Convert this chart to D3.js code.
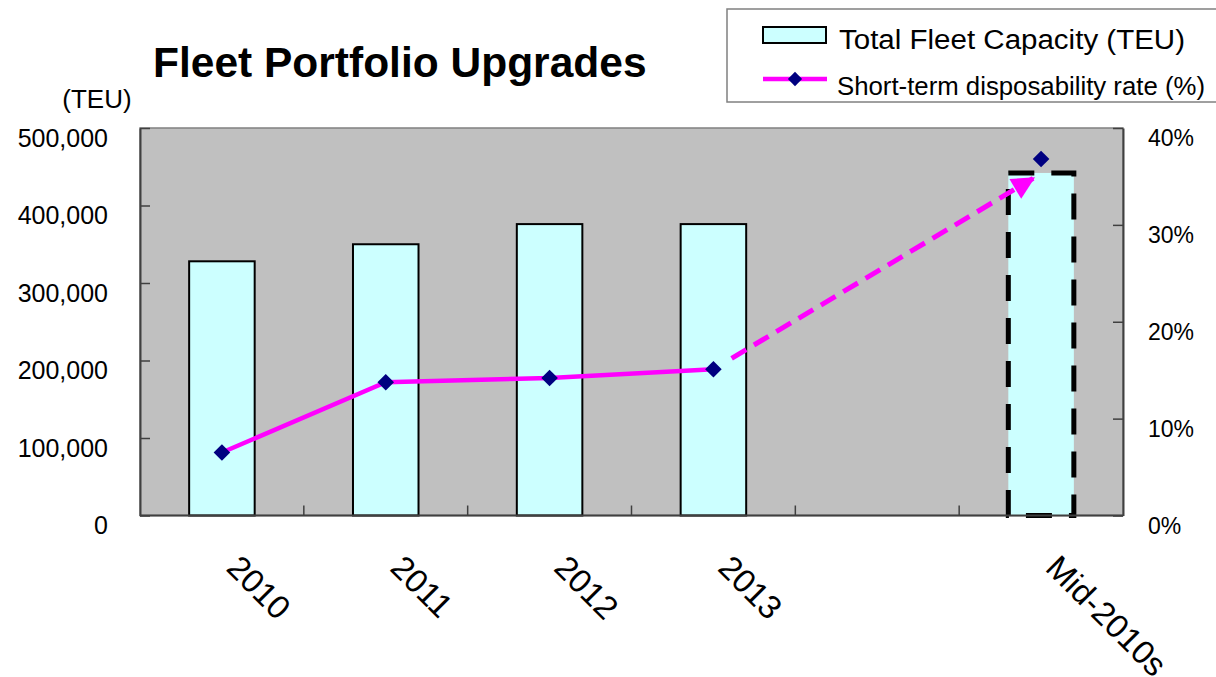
<!DOCTYPE html>
<html>
<head>
<meta charset="utf-8">
<script src="https://cdn.jsdelivr.net/npm/d3@7/dist/d3.min.js"></script>
<style>
  html, body { margin: 0; padding: 0; background: #ffffff; }
  svg { display: block; font-family: "Liberation Sans", Arial, sans-serif; }
</style>
</head>
<body>
<svg id="chart" width="1216" height="677"></svg>
<script>
// ---- data ----
const categories = ["2010", "2011", "2012", "2013", "", "Mid-2010s"];
const capacityTEU = [328000, 350000, 376000, 376000, null, 442000];
const disposabilityRate = [6.5, 13.75, 14.2, 15.1, null, 36.8];
const leftTickValues = [0, 100000, 200000, 300000, 400000, 500000];
const rightTickValues = [0, 10, 20, 30, 40];
const projectedIndex = 5;          // Mid-2010s is a projection
const lastActualIndex = 3;         // 2013
const arrowTargetRate = 34.8;      // where the projection arrow ends

const title = "Fleet Portfolio Upgrades";
const leftUnit = "(TEU)";
const seriesNames = ["Total Fleet Capacity (TEU)", "Short-term disposability rate (%)"];

// ---- layout ----
const W = 1216, H = 677;
const plot = { left: 140, right: 1123, top: 128, bottom: 515.5 };
const svg = d3.select("#chart");

const x = d3.scaleBand().domain(d3.range(categories.length)).range([plot.left, plot.right]).padding(0);
const barW = x.bandwidth() * 0.4;
const cx = i => x(i) + x.bandwidth() / 2;
const y = d3.scaleLinear().domain([0, 500000]).range([plot.bottom, plot.top]);
const yR = d3.scaleLinear().domain([0, 40]).range([plot.bottom, plot.top]);

const BAR_FILL = "#CCFFFF", LINE = "#FF00FF", MARK = "#000080";

// plot background
svg.append("rect")
  .attr("x", plot.left).attr("y", plot.top)
  .attr("width", plot.right - plot.left).attr("height", plot.bottom - plot.top)
  .attr("fill", "#C0C0C0").attr("stroke", "#808080").attr("stroke-width", 1.5);

// bars
const barData = capacityTEU.map((v, i) => ({ v, i })).filter(d => d.v != null);
svg.append("g").selectAll("rect").data(barData).join("rect")
  .attr("x", d => cx(d.i) - barW / 2)
  .attr("y", d => y(d.v))
  .attr("width", barW)
  .attr("height", d => y(0) - y(d.v))
  .attr("fill", BAR_FILL)
  .attr("stroke", "#000")
  .attr("stroke-width", d => d.i === projectedIndex ? 5 : 2)
  .attr("stroke-dasharray", d => d.i === projectedIndex ? "26,17" : null);

// axes
const gl = svg.append("g").attr("transform", `translate(${plot.left},0)`)
  .call(d3.axisLeft(y).tickValues(leftTickValues).tickSizeInner(-10).tickSizeOuter(0)
    .tickPadding(32).tickFormat(d3.format(",")));
gl.select(".domain").attr("stroke", "#404040").attr("stroke-width", 2);
gl.selectAll(".tick line").attr("stroke", "#404040").attr("stroke-width", 1.5);
gl.selectAll(".tick text").attr("font-size", 25).attr("fill", "#000")
  .attr("font-family", "Liberation Sans, Arial, sans-serif").attr("dy", "0.72em");

const gr = svg.append("g").attr("transform", `translate(${plot.right},0)`)
  .call(d3.axisRight(yR).tickValues(rightTickValues).tickSizeInner(-10).tickSizeOuter(0)
    .tickPadding(25).tickFormat(d => d + "%"));
gr.select(".domain").attr("stroke", "#404040").attr("stroke-width", 2);
gr.selectAll(".tick line").attr("stroke", "#404040").attr("stroke-width", 1.5);
gr.selectAll(".tick text").attr("font-size", 23).attr("fill", "#000")
  .attr("font-family", "Liberation Sans, Arial, sans-serif").attr("dy", "0.78em");

// bottom axis line and category-boundary ticks
svg.append("line").attr("x1", plot.left).attr("x2", plot.right)
  .attr("y1", plot.bottom).attr("y2", plot.bottom)
  .attr("stroke", "#404040").attr("stroke-width", 2);
svg.append("g").selectAll("line").data(d3.range(1, categories.length)).join("line")
  .attr("x1", i => x(i)).attr("x2", i => x(i))
  .attr("y1", plot.bottom).attr("y2", plot.bottom - 10)
  .attr("stroke", "#404040").attr("stroke-width", 1.5);

// category labels (rotated 45°)
svg.append("g").selectAll("text").data(categories.map((c, i) => ({ c, i })).filter(d => d.c))
  .join("text")
  .attr("transform", d => `translate(${cx(d.i) + 3},${plot.bottom + 54}) rotate(45)`)
  .attr("font-size", 33).attr("fill", "#000")
  .text(d => d.c);

// solid actual line
const pts = disposabilityRate.map((v, i) => ({ v, i })).filter(d => d.v != null);
const actual = pts.filter(d => d.i <= lastActualIndex);
svg.append("path").datum(actual)
  .attr("d", d3.line().x(d => cx(d.i)).y(d => yR(d.v)))
  .attr("fill", "none").attr("stroke", LINE).attr("stroke-width", 4.5);

// dashed projection arrow
const defs = svg.append("defs");
defs.append("marker").attr("id", "arrow")
  .attr("viewBox", "0 0 10 10").attr("refX", 9).attr("refY", 5)
  .attr("markerWidth", 5).attr("markerHeight", 4.6).attr("markerUnits", "strokeWidth")
  .attr("orient", "auto")
  .append("path").attr("d", "M0,0 L10,5 L0,10 Z").attr("fill", LINE);

const p0 = [cx(lastActualIndex), yR(disposabilityRate[lastActualIndex])];
const p1 = [cx(projectedIndex) - 8, yR(arrowTargetRate)];
const t0 = 0.057;
const start = [p0[0] + (p1[0] - p0[0]) * t0, p0[1] + (p1[1] - p0[1]) * t0];
svg.append("path")
  .attr("d", d3.line()([start, p1]))
  .attr("fill", "none").attr("stroke", LINE).attr("stroke-width", 5)
  .attr("stroke-dasharray", "17,9")
  .attr("marker-end", "url(#arrow)");

// markers
const diamond = d3.symbol().type(d3.symbolDiamond2).size(175);
svg.append("g").selectAll("path").data(pts).join("path")
  .attr("d", diamond)
  .attr("transform", d => `translate(${cx(d.i)},${yR(d.v)})`)
  .attr("fill", MARK);

// title and unit
svg.append("text").attr("x", 153).attr("y", 77)
  .attr("font-size", 42.5).attr("font-weight", "bold").attr("fill", "#000").text(title);
svg.append("text").attr("x", 97).attr("y", 108).attr("text-anchor", "middle")
  .attr("font-size", 26).attr("fill", "#000")
  .text(leftUnit);

// legend
const lg = svg.append("g");
lg.append("rect").attr("x", 727).attr("y", 9).attr("width", 520).attr("height", 93)
  .attr("fill", "#fff").attr("stroke", "#808080").attr("stroke-width", 1.5);
lg.append("rect").attr("x", 763).attr("y", 27).attr("width", 63).attr("height", 16)
  .attr("fill", BAR_FILL).attr("stroke", "#000").attr("stroke-width", 2);
lg.append("text").attr("x", 839).attr("y", 49).attr("font-size", 27)
  .attr("textLength", 346).attr("lengthAdjust", "spacingAndGlyphs")
  .attr("fill", "#000").text(seriesNames[0]);
lg.append("line").attr("x1", 763).attr("x2", 827).attr("y1", 79).attr("y2", 79)
  .attr("stroke", LINE).attr("stroke-width", 4.5);
lg.append("path").attr("d", d3.symbol().type(d3.symbolDiamond2).size(130))
  .attr("transform", "translate(795,79)").attr("fill", MARK);
lg.append("text").attr("x", 837).attr("y", 95).attr("font-size", 26)
  .attr("textLength", 368).attr("lengthAdjust", "spacingAndGlyphs")
  .attr("fill", "#000").text(seriesNames[1]);
</script>
</body>
</html>
